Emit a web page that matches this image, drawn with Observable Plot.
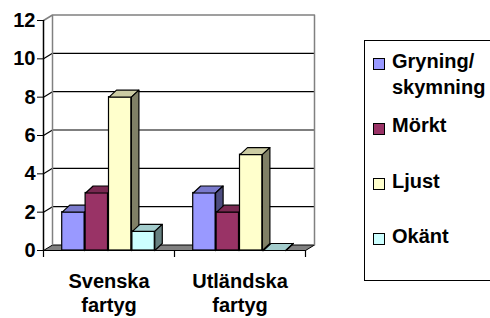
<!DOCTYPE html>
<html>
<head>
<meta charset="utf-8">
<script src="https://cdn.jsdelivr.net/npm/d3@7"></script>
<script src="https://cdn.jsdelivr.net/npm/@observablehq/plot@0.6"></script>
<style>
  html, body { margin: 0; padding: 0; background: #fff; }
  #wrap { position: relative; width: 490px; height: 318px; overflow: hidden; font-family: 'Liberation Sans', Arial, sans-serif; }
  #legend { position: absolute; left: 364px; top: 40px; width: 140px; height: 241px; border: 1.5px solid #000; box-sizing: border-box; }
  .item { position: absolute; left: 27px; font-size: 20px; font-weight: bold; line-height: 26px; color: #000; white-space: nowrap; }
  .sw { position: absolute; left: 8px; width: 12px; height: 12px; border: 1px solid #000; box-sizing: border-box; }
</style>
</head>
<body>
<div id="wrap"></div>
<script>
// ---- data ----
const categories = ["Svenska\nfartyg", "Utländska\nfartyg"];
const series = ["Gryning/\nskymning", "Mörkt", "Ljust", "Okänt"];
const gryning = [2, 3];
const morkt = [3, 2];
const ljust = [8, 5];
const okant = [1, 0];
const yTicks = [0, 2, 4, 6, 8, 10, 12];
const colors = ["#9999FF", "#993366", "#FFFFCC", "#CCFFFF"];

const values = [gryning, morkt, ljust, okant];

// ---- geometry (pixels -> data units) ----
const W = 490, H = 318;
const mL = 43, mR = 185, mT = 20, mB = 68;
const xSpan = W - mL - mR, ySpan = H - mT - mB;
const xMax = categories.length, yMax = 12;
const ux = xMax / xSpan, uy = yMax / ySpan;
const wallDx = 9 * ux, wallDy = 5.5 * uy;      // back wall depth
const barDx = 7.5 * ux, barDy = 7 * uy;        // bar depth
const pitch = 1 / 5.6;                           // bar spacing in category units
const barW = pitch - 1 * ux;

function shade(c, k) {
  const r = d3.rgb(c);
  return d3.rgb(r.r * k, r.g * k, r.b * k).formatHex();
}

const marks = [];

// floor
const floorPts = [
  {x: 0, y: 0}, {x: xMax, y: 0}, {x: xMax + wallDx, y: wallDy}, {x: wallDx, y: wallDy}, {x: 0, y: 0}
];
marks.push(Plot.line(floorPts, {x: "x", y: "y", fill: "#808080", stroke: "#000", strokeWidth: 1}));

// back wall gridlines
const grid = yTicks.filter(v => v > 0 && v < yMax);
marks.push(Plot.ruleY(grid, {y: d => d + wallDy, x1: wallDx, x2: xMax + wallDx, stroke: "#000", strokeWidth: 1.2}));
// side wall gridline diagonals
marks.push(Plot.link(grid, {x1: 0, y1: d => d, x2: wallDx, y2: d => d + wallDy, stroke: "#000", strokeWidth: 1.2}));
// wall borders (gray)
const borderPts = [
  {x: 0, y: yMax}, {x: wallDx, y: yMax + wallDy}, {x: xMax + wallDx, y: yMax + wallDy}, {x: xMax + wallDx, y: wallDy}
];
marks.push(Plot.line(borderPts, {x: "x", y: "y", stroke: "#808080", strokeWidth: 1.5}));
marks.push(Plot.link([0], {x1: wallDx, x2: wallDx, y1: wallDy, y2: yMax + wallDy, stroke: "#808080", strokeWidth: 1.5}));

// bars
series.forEach((s, si) => {
  const fronts = [], tops = [], sides = [];
  values[si].forEach((v, ci) => {
    const x0 = ci + 0.5 + (si - series.length / 2) * pitch;
    const x1 = x0 + barW;
    fronts.push({x1: x0, x2: x1, v});
    const id = ci;
    [[x0, v], [x1, v], [x1 + barDx, v + barDy], [x0 + barDx, v + barDy], [x0, v]]
      .forEach(([x, y]) => tops.push({x, y, id}));
    [[x1, 0], [x1 + barDx, barDy], [x1 + barDx, v + barDy], [x1, v], [x1, 0]]
      .forEach(([x, y]) => sides.push({x, y, id}));
  });
  const c = colors[si];
  marks.push(Plot.rectY(fronts, {x1: "x1", x2: "x2", y1: 0, y2: "v", fill: c, stroke: "#000", strokeWidth: 1.2}));
  marks.push(Plot.line(tops, {x: "x", y: "y", z: "id", fill: shade(c, 0.8), stroke: "#000", strokeWidth: 1.2, strokeLinejoin: "round"}));
  marks.push(Plot.line(sides, {x: "x", y: "y", z: "id", fill: shade(c, 0.5), stroke: "#000", strokeWidth: 1.2, strokeLinejoin: "round"}));
});

// axes
marks.push(Plot.ruleX([0], {y1: 0, y2: yMax, stroke: "#000", strokeWidth: 1.5}));
marks.push(Plot.axisY({ticks: yTicks, tickSize: 6, tickPadding: 2, fontSize: 20, fontWeight: "bold", label: null, tickFormat: d => String(d)}));
const catTicks = d3.range(categories.length + 1);
marks.push(Plot.axisX({ticks: catTicks, tickSize: 7, tickFormat: () => "", label: null, strokeWidth: 1.2}));
marks.push(Plot.axisX({ticks: categories.map((c, i) => i + 0.5), tickSize: 0, tickPadding: 20, fontSize: 20, fontWeight: "bold", lineHeight: 1.2, label: null, tickFormat: d => categories[Math.floor(d)]}));

const chart = Plot.plot({
  width: W, height: H,
  marginLeft: mL, marginRight: mR, marginTop: mT, marginBottom: mB,
  x: {type: "linear", domain: [0, xMax]},
  y: {type: "linear", domain: [0, yMax]},
  style: {fontFamily: "'Liberation Sans', Arial, sans-serif", background: "#fff", color: "#000", overflow: "visible"},
  marks
});

const wrap = document.getElementById("wrap");
wrap.appendChild(chart);

// legend
const legend = document.createElement("div");
legend.id = "legend";
const itemTops = [7, 71, 127, 182];
const swTops = [17, 82, 137, 192];
series.forEach((s, i) => {
  const sw = document.createElement("div");
  sw.className = "sw";
  sw.style.top = swTops[i] + "px";
  sw.style.background = colors[i];
  legend.appendChild(sw);
  const t = document.createElement("div");
  t.className = "item";
  t.style.top = itemTops[i] + "px";
  t.innerHTML = s.split("\n").join("<br>");
  legend.appendChild(t);
});
wrap.appendChild(legend);
</script>
</body>
</html>
